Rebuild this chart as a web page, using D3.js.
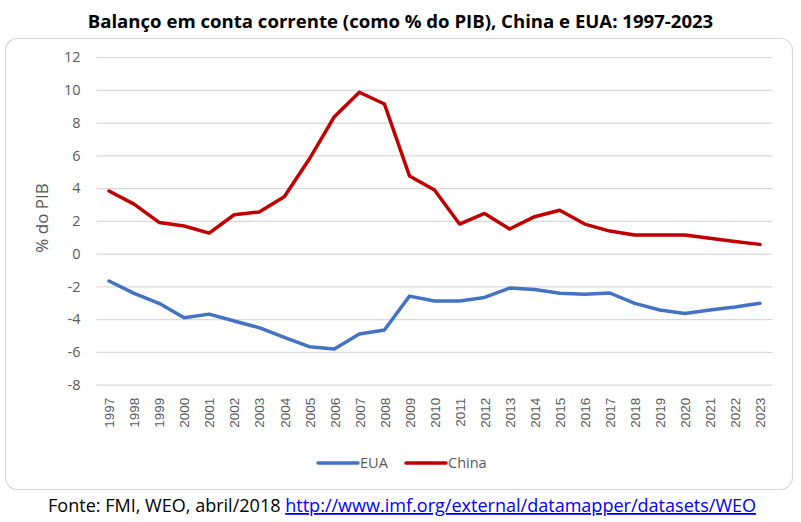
<!DOCTYPE html>
<html>
<head>
<meta charset="utf-8">
<script src="https://cdn.jsdelivr.net/npm/d3@7"></script>
<style>
  body { margin: 0; background: #fff; }
  svg { display: block; font-family: "Open Sans", "Noto Sans", sans-serif; }
</style>
</head>
<body>
<div id="chart"></div>
<script>
// dados
var years = [1997,1998,1999,2000,2001,2002,2003,2004,2005,2006,2007,2008,2009,2010,
             2011,2012,2013,2014,2015,2016,2017,2018,2019,2020,2021,2022,2023];
var eua = [-1.67,-2.42,-3.03,-3.91,-3.69,-4.11,-4.52,-5.11,-5.68,-5.82,-4.91,-4.66,-2.59,-2.89,
           -2.89,-2.67,-2.10,-2.18,-2.42,-2.48,-2.40,-3.03,-3.44,-3.65,-3.44,-3.26,-3.03];
var china = [3.83,3.03,1.91,1.69,1.26,2.38,2.55,3.48,5.78,8.37,9.86,9.14,4.75,3.89,
             1.81,2.46,1.51,2.26,2.65,1.81,1.38,1.14,1.14,1.14,0.94,0.75,0.57];
var yTicks = [-8,-6,-4,-2,0,2,4,6,8,10,12];

var width = 801, height = 522;
var plot = {left: 96.5, right: 772.5, top: 57.2, bottom: 384.7};
var grey = "#595959";

var svg = d3.select("#chart").append("svg")
    .attr("width", width)
    .attr("height", height);

// moldura arredondada
svg.append("rect")
    .attr("x", 5.5).attr("y", 38.5)
    .attr("width", 787).attr("height", 451)
    .attr("rx", 12).attr("ry", 12)
    .attr("fill", "#fff")
    .attr("stroke", "#d9d9d9")
    .attr("stroke-width", 1.2);

var x = d3.scalePoint().domain(years).range([plot.left, plot.right]).padding(0.5);
var y = d3.scaleLinear().domain([-8, 12]).range([plot.bottom, plot.top]);

// ajusta o tamanho da fonte para a largura desejada
function fitWidth(sel, target){
    var w = sel.node().getComputedTextLength();
    var fs = parseFloat(sel.attr("font-size"));
    sel.attr("font-size", (fs * target / w).toFixed(2));
}

// grade + eixo y
var yAxis = svg.append("g")
    .attr("transform", "translate(" + plot.left + ",0)")
    .call(d3.axisLeft(y).tickValues(yTicks).tickSize(-(plot.right - plot.left)).tickPadding(16));
yAxis.select(".domain").remove();
yAxis.selectAll(".tick line").attr("stroke", "#d9d9d9").attr("stroke-width", 1.3);
yAxis.selectAll(".tick text")
    .attr("fill", grey)
    .attr("font-size", 14.5)
    .attr("font-family", "Open Sans, sans-serif")
    .text(function(d){ return d < 0 ? "-" + Math.abs(d) : d; });

// eixo x
var xAxis = svg.append("g")
    .attr("transform", "translate(0," + plot.bottom + ")")
    .call(d3.axisBottom(x).tickSize(0).tickPadding(0));
xAxis.select(".domain").remove();
xAxis.selectAll(".tick text")
    .attr("fill", grey)
    .attr("font-size", 13.5)
    .attr("text-anchor", "end")
    .attr("dy", "0.35em")
    .attr("transform", "translate(0,13) rotate(-90)");

// título do eixo y
svg.append("text")
    .attr("transform", "translate(48,218) rotate(-90)")
    .attr("text-anchor", "middle")
    .attr("fill", grey)
    .attr("font-size", 17)
    .text("% do PIB");

// linhas
var line = d3.line()
    .x(function(d, i){ return x(years[i]); })
    .y(function(d){ return y(d); });

svg.append("path").datum(eua)
    .attr("d", line)
    .attr("fill", "none")
    .attr("stroke", "#4472C4")
    .attr("stroke-width", 3.5)
    .attr("stroke-linejoin", "round")
    .attr("stroke-linecap", "round");

svg.append("path").datum(china)
    .attr("d", line)
    .attr("fill", "none")
    .attr("stroke", "#C00000")
    .attr("stroke-width", 3.5)
    .attr("stroke-linejoin", "round")
    .attr("stroke-linecap", "round");

// legenda
var legendItems = [
    {name: "EUA", color: "#4472C4", x: 318},
    {name: "China", color: "#C00000", x: 406}
];
var lg = svg.append("g").selectAll("g")
    .data(legendItems).enter().append("g")
    .attr("transform", function(d){ return "translate(" + d.x + ",463)"; });
lg.append("line")
    .attr("x1", 0).attr("x2", 40)
    .attr("stroke", function(d){ return d.color; })
    .attr("stroke-width", 3.5)
    .attr("stroke-linecap", "round");
lg.append("text")
    .attr("x", 42).attr("dy", "0.35em")
    .attr("fill", grey)
    .attr("font-size", 14.5)
    .text(function(d){ return d.name; });

// título
var title = svg.append("text")
    .attr("x", 400.5).attr("y", 28)
    .attr("text-anchor", "middle")
    .attr("font-weight", "bold")
    .attr("font-size", 17)
    .attr("fill", "#000")
    .text("Balanço em conta corrente (como % do PIB), China e EUA: 1997-2023");
fitWidth(title, 626);

// fonte
var foot = svg.append("text")
    .attr("x", 48).attr("y", 512)
    .attr("font-size", 17)
    .attr("fill", "#000");
foot.append("tspan").text("Fonte: FMI, WEO, abril/2018 ");
foot.append("tspan")
    .attr("fill", "#0000FF")
    .attr("text-decoration", "underline")
    .text("http://www.imf.org/external/datamapper/datasets/WEO");
fitWidth(foot, 709);
</script>
</body>
</html>
